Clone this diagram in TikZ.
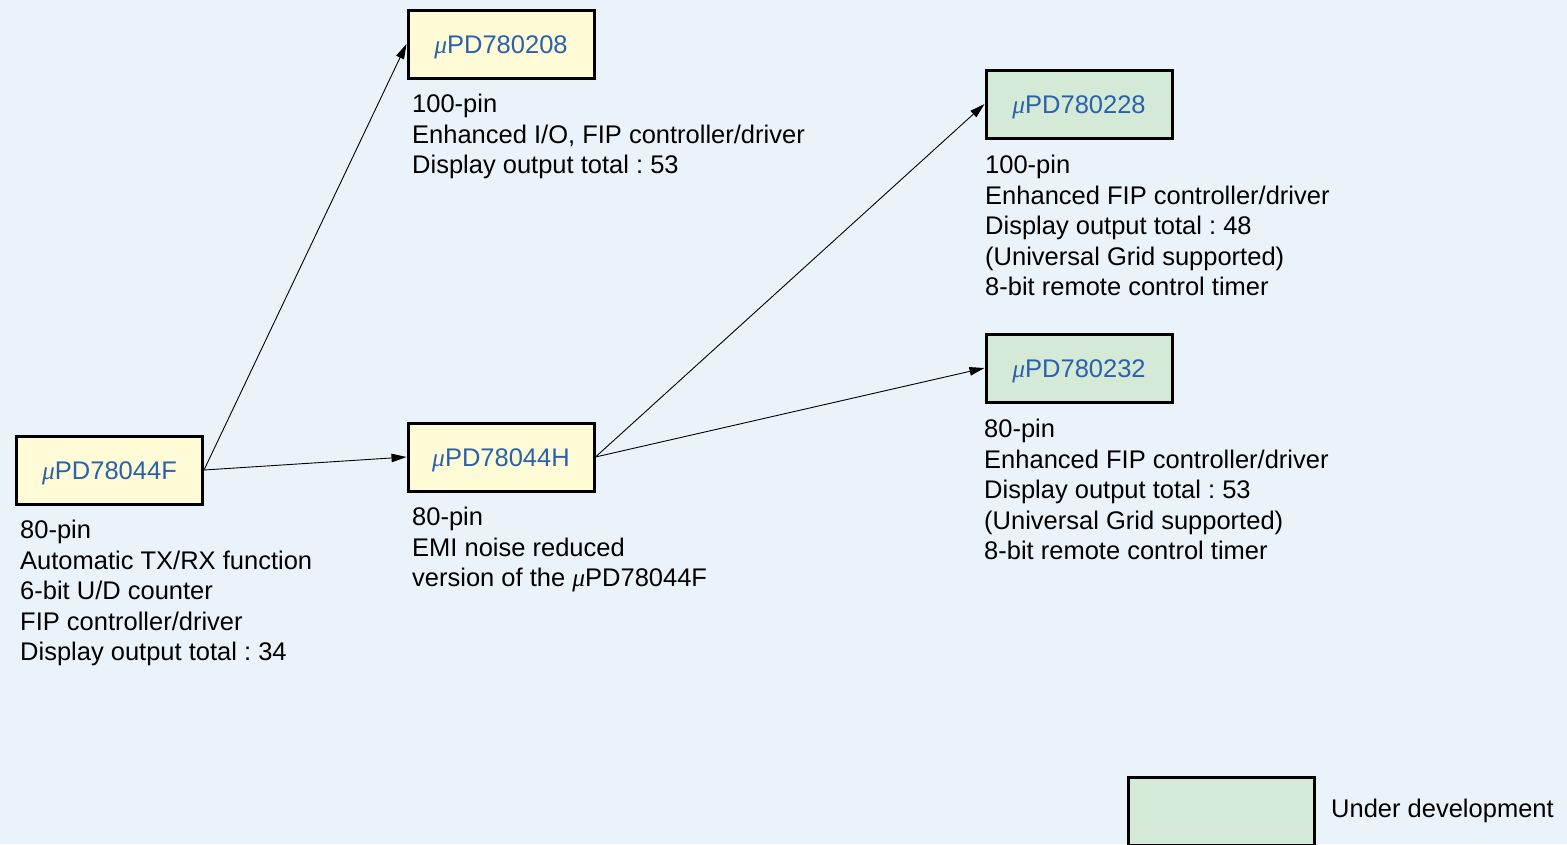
\documentclass[tikz,border=0pt]{standalone}
\usepackage{fontspec}
\setmainfont{Liberation Sans}
\newfontfamily\mufont{Liberation Serif}
\newcommand{\muchar}{{\mufont\itshape μ}}
\usetikzlibrary{arrows.meta}
\definecolor{bg}{HTML}{EBF3FA}
\definecolor{ylw}{HTML}{FFFBD7}
\definecolor{grn}{HTML}{D4E9D6}
\definecolor{partblue}{HTML}{2A61AB}
\frenchspacing
\begin{document}
\begin{tikzpicture}[x=1pt,y=-1pt,
  txt/.style={font=\fontsize{25.5}{30.5}\selectfont},
  part/.style={txt,draw=black,line width=3pt,minimum width=186pt,minimum height=68pt,inner sep=0pt,text=partblue,text height=18.3pt,text depth=0pt},
  old/.style={part,fill=ylw},
  new/.style={part,fill=grn},
  desc/.style={txt,align=left,anchor=north west,inner sep=0pt},
  conn/.style={-{Triangle[length=15pt,width=8.5pt]},line width=0.9pt}
]
\fill[bg] (0,0) rectangle (1567,844);
\useasboundingbox (0,0) rectangle (1567,844);

\node[old] (F) at (109.5,470) {\muchar PD78044F};
\node[old] (H) at (501,457) {\muchar PD78044H};
\node[old] (A) at (501,44) {\muchar PD780208};
\node[new] (B) at (1079,104) {\muchar PD780228};
\node[new] (C) at (1079,368) {\muchar PD780232};

\node[desc] (Fd) at (20,520) {80-pin\\Automatic TX/RX function\\6-bit U/D counter\\FIP controller/driver\\Display output total : 34};
\node[desc] (Hd) at (412,507) {80-pin\\EMI noise reduced\\version of the \muchar PD78044F};
\node[desc] (Ad) at (412,94) {100-pin\\Enhanced I/O, FIP controller/driver\\Display output total : 53};
\node[desc] (Bd) at (985,155) {100-pin\\Enhanced FIP controller/driver\\Display output total : 48\\(Universal Grid supported)\\8-bit remote control timer};
\node[desc] (Cd) at (984,419) {80-pin\\Enhanced FIP controller/driver\\Display output total : 53\\(Universal Grid supported)\\8-bit remote control timer};

\node[new] (L) at (1221.5,811) {};
\node[txt,anchor=west,inner sep=0pt] (Lt) at (1331,811) {Under development};

\draw[conn] (F.east) -- (A.west);
\draw[conn] (F.east) -- (H.west);
\draw[conn] (H.east) -- (B.west);
\draw[conn] (H.east) -- (C.west);
\end{tikzpicture}
\end{document}
